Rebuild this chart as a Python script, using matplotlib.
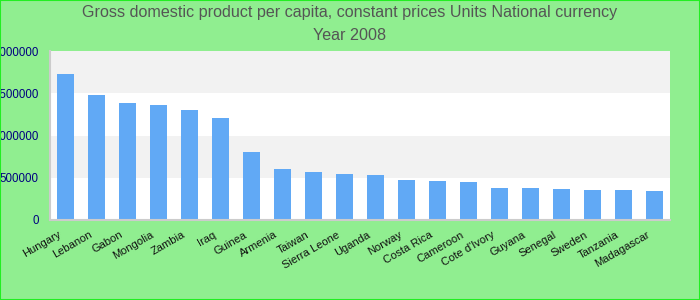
import numpy as np
import matplotlib
matplotlib.use("Agg")
import matplotlib.pyplot as plt
from matplotlib.patches import Rectangle
from matplotlib.transforms import ScaledTranslation

countries = ["Hungary", "Lebanon", "Gabon", "Mongolia", "Zambia", "Iraq", "Guinea",
             "Armenia", "Taiwan", "Sierra Leone", "Uganda", "Norway", "Costa Rica",
             "Cameroon", "Cote d'Ivory", "Guyana", "Senegal", "Sweden", "Tanzania",
             "Madagascar"]
gdp = [1728000, 1479000, 1385000, 1361000, 1302000, 1207000, 805000,
       604000, 568000, 544000, 532000, 473000, 461000,
       450000, 379000, 379000, 367000, 355000, 355000, 343000]
y_ticks = [0, 500000, 1000000, 1500000, 2000000]

plt.rcParams['font.family'] = ['Liberation Sans', 'DejaVu Sans']

fig = plt.figure(figsize=(7, 3), dpi=100, facecolor='#90ee90')
ax = fig.add_axes([50 / 700, 1 - 220 / 300, 620 / 700, 169 / 300])
ax.set_facecolor('white')

# bandas horizontales alternas
for i in range(len(y_ticks) - 1):
    color = 'white' if i % 2 == 0 else '#f2f2f2'
    ax.axhspan(y_ticks[i], y_ticks[i + 1], color=color, zorder=0, lw=0)

x = np.arange(len(countries))
ax.bar(x, gdp, width=0.55, color='#61a9f5', zorder=2)

ax.set_xlim(-0.5, len(countries) - 0.5)
ax.set_ylim(0, 2000000)
ax.set_yticks(y_ticks)
ax.set_yticklabels([str(v) for v in y_ticks], color='#000080', fontsize=8.3)
ax.set_xticks(x)
ax.set_xticklabels(countries, rotation=30, ha='right', rotation_mode='anchor',
                   fontsize=8, color='#111111')
ax.tick_params(axis='y', length=0, pad=8)
ax.tick_params(axis='x', length=0, pad=4)

# desplazar etiquetas del eje x un poco a la izquierda y abajo
offset = ScaledTranslation(-8 / 100, -4 / 100, fig.dpi_scale_trans)
for lbl in ax.get_xticklabels():
    lbl.set_transform(lbl.get_transform() + offset)

for side in ['top', 'right']:
    ax.spines[side].set_visible(False)
for side in ['left', 'bottom']:
    ax.spines[side].set_color('#cccccc')
    ax.spines[side].set_linewidth(1.5)

fig.text(0.5, 1 - 13 / 300, "Gross domestic product per capita, constant prices Units National currency",
         ha='center', va='center', fontsize=11.6, color='#555555')
fig.text(0.5, 1 - 36 / 300, "Year 2008", ha='center', va='center', fontsize=11.6, color='#555555')

# borde verde de la figura
fig.patches.append(Rectangle((0, 0), 1, 1, transform=fig.transFigure, fill=False,
                             edgecolor='#22ee22', lw=1.5))

fig.savefig("out.png", dpi=100, facecolor=fig.get_facecolor())
